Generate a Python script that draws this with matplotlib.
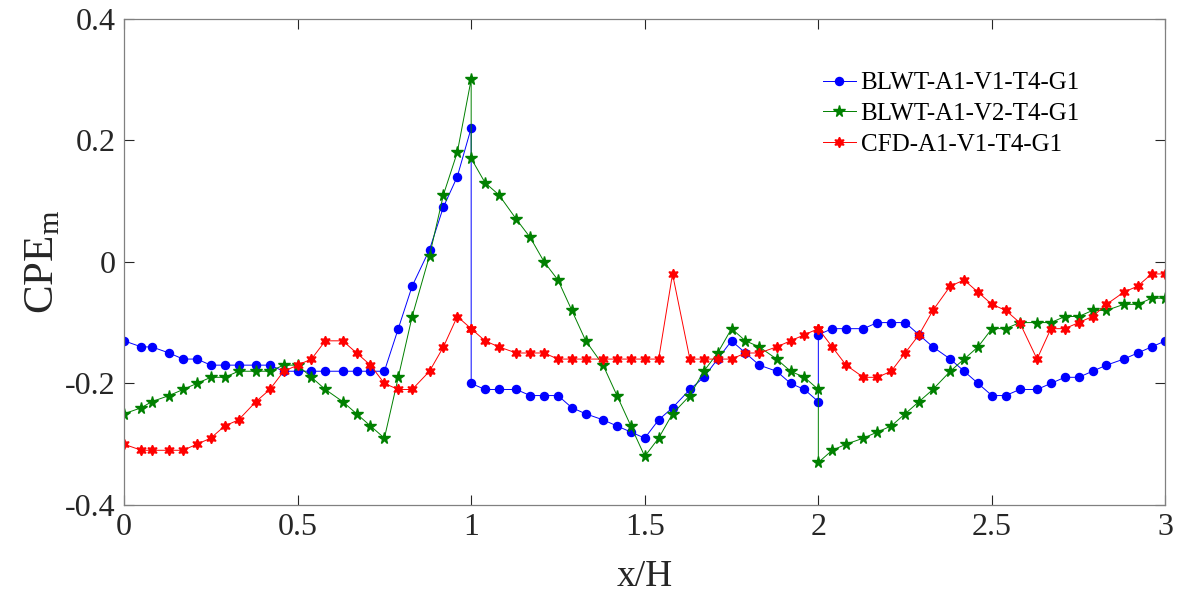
import numpy as np
import matplotlib
matplotlib.use("Agg")
import matplotlib.pyplot as plt

plt.rcParams["font.family"] = ["Liberation Serif", "DejaVu Serif"]
plt.rcParams["axes.unicode_minus"] = False

# x/H positions along each face (windward 0-1, roof 1-2, leeward 2-3)
x_face1 = [0, 0.05, 0.08, 0.13, 0.17, 0.21, 0.25, 0.29, 0.33, 0.38, 0.42, 0.46, 0.5,
           0.54, 0.58, 0.63, 0.67, 0.71, 0.75, 0.79, 0.83, 0.88, 0.92, 0.96, 1.0]
x_face2 = [1.0, 1.04, 1.08, 1.13, 1.17, 1.21, 1.25, 1.29, 1.33, 1.38, 1.42, 1.46, 1.5,
           1.54, 1.58, 1.63, 1.67, 1.71, 1.75, 1.79, 1.83, 1.88, 1.92, 1.96, 2.0]
x_face3 = [2.0, 2.04, 2.08, 2.13, 2.17, 2.21, 2.25, 2.29, 2.33, 2.38, 2.42, 2.46, 2.5,
           2.54, 2.58, 2.63, 2.67, 2.71, 2.75, 2.79, 2.83, 2.88, 2.92, 2.96, 3.0]

blwt_v1 = [
    # windward
    -0.13, -0.14, -0.14, -0.15, -0.16, -0.16, -0.17, -0.17, -0.17, -0.17, -0.17, -0.18, -0.18,
    -0.18, -0.18, -0.18, -0.18, -0.18, -0.18, -0.11, -0.04, 0.02, 0.09, 0.14, 0.22,
    # roof
    -0.20, -0.21, -0.21, -0.21, -0.22, -0.22, -0.22, -0.24, -0.25, -0.26, -0.27, -0.28, -0.29,
    -0.26, -0.24, -0.21, -0.19, -0.16, -0.13, -0.15, -0.17, -0.18, -0.20, -0.21, -0.23,
    # leeward
    -0.12, -0.11, -0.11, -0.11, -0.10, -0.10, -0.10, -0.12, -0.14, -0.16, -0.18, -0.20, -0.22,
    -0.22, -0.21, -0.21, -0.20, -0.19, -0.19, -0.18, -0.17, -0.16, -0.15, -0.14, -0.13,
]

blwt_v2 = [
    -0.25, -0.24, -0.23, -0.22, -0.21, -0.20, -0.19, -0.19, -0.18, -0.18, -0.18, -0.17, -0.17,
    -0.19, -0.21, -0.23, -0.25, -0.27, -0.29, -0.19, -0.09, 0.01, 0.11, 0.18, 0.30,
    0.17, 0.13, 0.11, 0.07, 0.04, 0.00, -0.03, -0.08, -0.13, -0.17, -0.22, -0.27, -0.32,
    -0.29, -0.25, -0.22, -0.18, -0.15, -0.11, -0.13, -0.14, -0.16, -0.18, -0.19, -0.21,
    -0.33, -0.31, -0.30, -0.29, -0.28, -0.27, -0.25, -0.23, -0.21, -0.18, -0.16, -0.14, -0.11,
    -0.11, -0.10, -0.10, -0.10, -0.09, -0.09, -0.08, -0.08, -0.07, -0.07, -0.06, -0.06,
]

cfd_v1 = [
    -0.30, -0.31, -0.31, -0.31, -0.31, -0.30, -0.29, -0.27, -0.26, -0.23, -0.21, -0.18, -0.17,
    -0.16, -0.13, -0.13, -0.15, -0.17, -0.20, -0.21, -0.21, -0.18, -0.14, -0.09, -0.11,
    -0.11, -0.13, -0.14, -0.15, -0.15, -0.15, -0.16, -0.16, -0.16, -0.16, -0.16, -0.16, -0.16,
    -0.16, -0.02, -0.16, -0.16, -0.16, -0.16, -0.15, -0.15, -0.14, -0.13, -0.12, -0.11,
    -0.11, -0.14, -0.17, -0.19, -0.19, -0.18, -0.15, -0.12, -0.08, -0.04, -0.03, -0.05, -0.07,
    -0.08, -0.10, -0.16, -0.11, -0.11, -0.10, -0.09, -0.07, -0.05, -0.04, -0.02, -0.02,
]

labels = ["BLWT-A1-V1-T4-G1", "BLWT-A1-V2-T4-G1", "CFD-A1-V1-T4-G1"]

x_all = x_face1 + x_face2 + x_face3
hexagram = (6, 1, 0)

fig = plt.figure(figsize=(11.8, 5.98), dpi=100)
ax = fig.add_axes([0.1051, 0.1555, 0.8826, 0.8135])

ax.plot(x_all, blwt_v1, color=(0, 0, 1), lw=0.7, marker="o", ms=5.8,
        mec=(0, 0, 1), mfc=(0, 0, 1), label=labels[0])
ax.plot(x_all, blwt_v2, color=(0, 0.5, 0), lw=0.7, marker="*", ms=8.5,
        mec=(0, 0.5, 0), mfc=(0, 0.5, 0), label=labels[1])
ax.plot(x_all, cfd_v1, color=(1, 0, 0), lw=0.7, marker=hexagram, ms=7.5,
        mec=(1, 0, 0), mfc=(1, 0, 0), label=labels[2])

ax.set_xlim(0, 3)
ax.set_ylim(-0.4, 0.4)
ax.set_xticks([0, 0.5, 1, 1.5, 2, 2.5, 3])
ax.set_xticklabels(["0", "0.5", "1", "1.5", "2", "2.5", "3"])
ax.set_yticks([-0.4, -0.2, 0, 0.2, 0.4])
ax.set_yticklabels(["-0.4", "-0.2", "0", "0.2", "0.4"])
ax.tick_params(direction="in", top=True, right=True, length=7, width=0.8,
               labelsize=23, colors="#262626", pad=6)
for sp in ax.spines.values():
    sp.set_color("#808080")
    sp.set_linewidth(0.9)

ax.set_xlabel("x/H", fontsize=27, color="#262626", labelpad=12)
ax.set_ylabel("CPE$_{\\mathregular{m}}$", fontsize=31, color="#262626", labelpad=2)

ax.legend(loc="upper left", bbox_to_anchor=(0.6975, 0.8796),
          bbox_transform=fig.transFigure, frameon=False, fontsize=18,
          handlelength=1.3, handletextpad=0.2, labelspacing=0.33,
          borderpad=0, borderaxespad=0)

fig.savefig("out.png", dpi=100)
